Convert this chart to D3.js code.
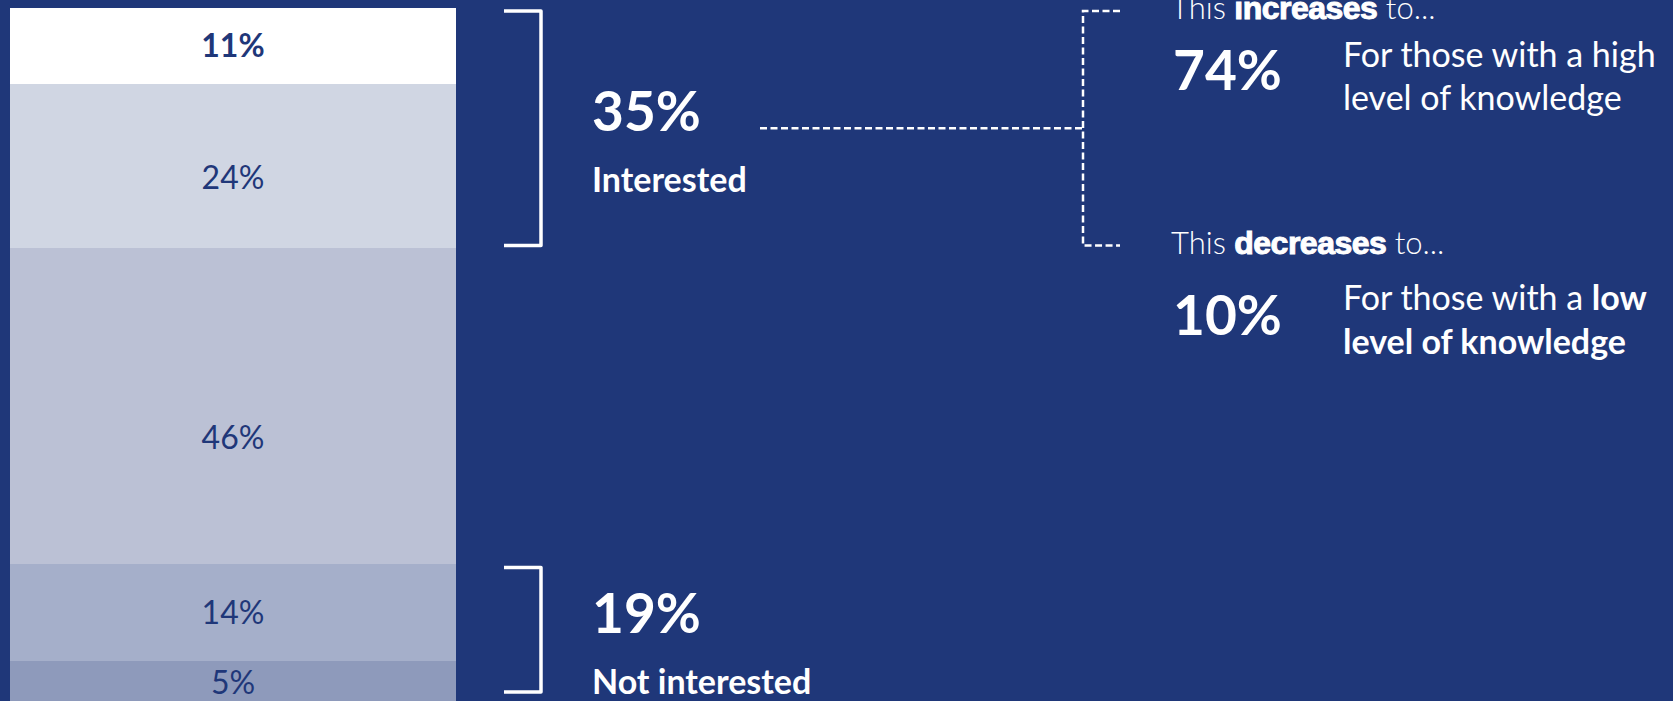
<!DOCTYPE html>
<html>
<head>
<meta charset="utf-8">
<script src="https://cdn.jsdelivr.net/npm/d3@7"></script>
<style>
  html, body { margin: 0; padding: 0; background: #1f3779; overflow: hidden; }
  svg { display: block; font-family: Lato, "Open Sans", sans-serif; }
</style>
</head>
<body>
<div id="chart"></div>
<script>
// shares of the single stacked bar, top to bottom
const shares = [11, 24, 46, 14, 5];
const segmentColors = ["#ffffff", "#d0d6e3", "#bbc1d5", "#a5afca", "#8e9abb"];

// bracketed groups of segments (indexes into shares)
const groupNames = ["Interested", "Not interested"];
const groupMembers = [[0, 1], [3, 4]];

// breakdown of the "Interested" group by knowledge level
const changeVerbs = ["increases", "decreases"];
const changeValues = [74, 10];
const knowledgeLevels = ["high", "low"];

const width = 1673;
const height = 701;
const navy = "#1f3779";

const ends = d3.cumsum(shares);
const starts = shares.map((d, i) => ends[i] - d);

const y = d3.scaleLinear().domain([0, 100]).range([8, 695]);
const x = d3.scaleBand().domain(["all"]).range([10, 456]);

const svg = d3.select("#chart").append("svg")
    .attr("width", width)
    .attr("height", height)
    .attr("viewBox", [0, 0, width, height]);

svg.append("rect")
    .attr("width", width)
    .attr("height", height)
    .attr("fill", navy);

// stacked bar; the last segment bleeds off the bottom edge like the slide crop
const last = shares.length - 1;
svg.append("g")
    .attr("shape-rendering", "crispEdges")
  .selectAll("rect")
  .data(shares)
  .join("rect")
    .attr("x", x("all"))
    .attr("width", x.bandwidth())
    .attr("y", (d, i) => y(starts[i]))
    .attr("height", (d, i) => (i === last ? height : y(ends[i])) - y(starts[i]))
    .attr("fill", (d, i) => segmentColors[i]);

// label sits a little lower than centre in the taller segments
const labelFrac = [0.5, 0.57, 0.6, 0.5, 0.65];
svg.append("g")
    .attr("fill", navy)
    .attr("font-size", 32)
    .attr("text-anchor", "middle")
  .selectAll("text")
  .data(shares)
  .join("text")
    .attr("x", x("all") + x.bandwidth() / 2)
    .attr("y", (d, i) => y(starts[i] + d * labelFrac[i]))
    .attr("dy", "0.35em")
    .attr("font-weight", (d, i) => i === 0 ? 700 : 400)
    .text(d => `${d}%`);

// brackets + group totals
const bx0 = 504, bx1 = 541;
const groups = groupNames.map((name, i) => {
  const m = groupMembers[i];
  const top = y(starts[m[0]]) + 3;
  const bottom = Math.min(y(ends[m[m.length - 1]]) - 3, height - 8);
  return {name, total: d3.sum(m, j => shares[j]), top, bottom, mid: (top + bottom) / 2};
});

svg.append("g")
    .attr("fill", "none")
    .attr("stroke", "#ffffff")
    .attr("stroke-width", 3.5)
    .attr("stroke-linejoin", "round")
  .selectAll("path")
  .data(groups)
  .join("path")
    .attr("d", g => `M${bx0},${g.top}H${bx1}V${g.bottom}H${bx0}`);

const gText = svg.append("g").attr("fill", "#ffffff").attr("font-weight", 700);
gText.selectAll(".total")
  .data(groups)
  .join("text")
    .attr("class", "total")
    .attr("x", 592)
    .attr("y", g => g.mid + 3)
    .attr("font-size", 55)
    .text(g => `${g.total}%`);
gText.selectAll(".name")
  .data(groups)
  .join("text")
    .attr("class", "name")
    .attr("x", 592)
    .attr("y", g => g.mid + 64)
    .attr("font-size", 34)
    .text(g => g.name);

// dashed connector from "Interested" to the breakdown
const first = groups[0];
const cx = 1083, stubEnd = 1120;
const link = svg.append("g")
    .attr("fill", "none")
    .attr("stroke", "#ffffff")
    .attr("stroke-width", 2.5)
    .attr("stroke-dasharray", "7,3.5");
link.append("path").attr("d", `M760,${first.mid}H${cx}`);
link.append("path").attr("d", `M${stubEnd},${first.top}H${cx}V${first.bottom}H${stubEnd}`);

// breakdown texts
const rowBase = [first.top + 7.5, first.bottom + 8.5];
const bigOffset = [71, 81];
const descOffset = [48.5, 56.5];
const rx = 1171, dx = 1343;

changeVerbs.forEach((verb, i) => {
  const base = rowBase[i];
  const head = svg.append("text")
      .attr("x", rx)
      .attr("y", base)
      .attr("fill", "#ffffff")
      .attr("font-size", 31)
      .attr("font-weight", 300);
  head.append("tspan").text("This ");
  head.append("tspan")
      .attr("font-family", "'Liberation Sans', Arial, sans-serif")
      .attr("font-weight", 700)
      .attr("font-size", 32)
      .attr("stroke", "#ffffff")
      .attr("stroke-width", 1)
      .attr("letter-spacing", -0.5)
      .text(verb);
  head.append("tspan").text(" to...");

  svg.append("text")
      .attr("x", rx + 2)
      .attr("y", base + bigOffset[i])
      .attr("fill", "#ffffff")
      .attr("font-size", 55)
      .attr("font-weight", 700)
      .text(`${changeValues[i]}%`);

  const lowLevel = knowledgeLevels[i] === "low";
  const l1 = svg.append("text")
      .attr("x", dx)
      .attr("y", base + descOffset[i])
      .attr("fill", "#ffffff")
      .attr("font-size", 34);
  l1.append("tspan").text("For those with a ");
  l1.append("tspan")
      .attr("font-weight", lowLevel ? 700 : 400)
      .text(knowledgeLevels[i]);
  svg.append("text")
      .attr("x", dx)
      .attr("y", base + descOffset[i] + 43.4)
      .attr("fill", "#ffffff")
      .attr("font-size", 34)
      .attr("font-weight", lowLevel ? 700 : 400)
      .text("level of knowledge");
});
</script>
</body>
</html>
